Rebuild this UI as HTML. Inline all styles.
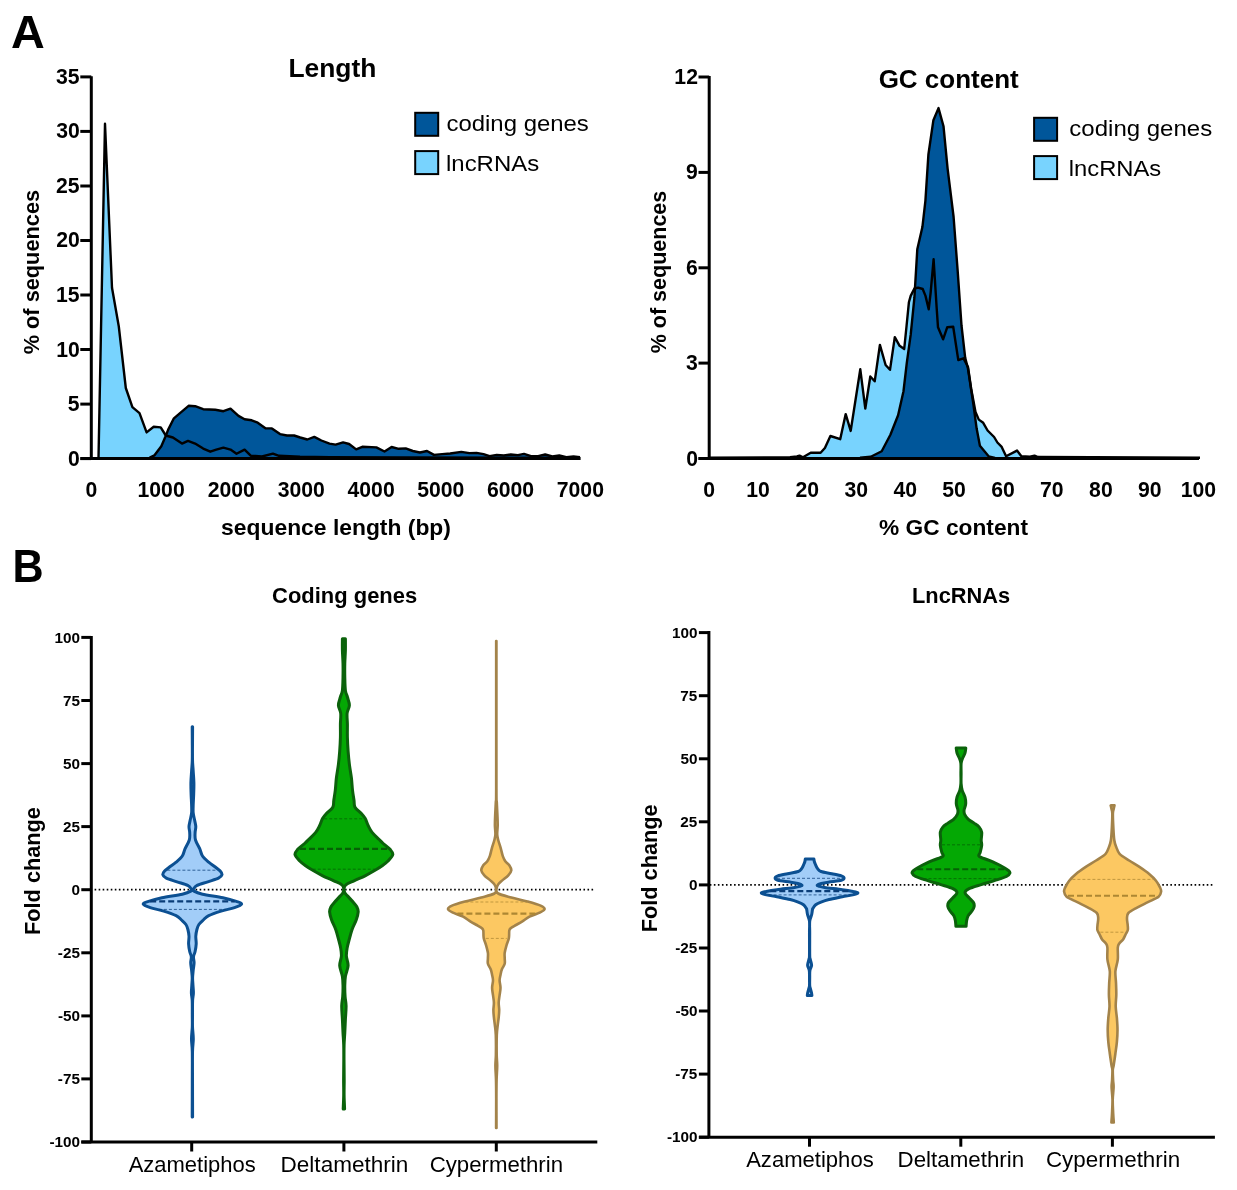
<!DOCTYPE html>
<html><head><meta charset="utf-8"><style>
html,body{margin:0;padding:0;background:#fff;}
svg{display:block;font-family:"Liberation Sans", sans-serif;font-kerning:none;filter:blur(0.35px);}
</style></head><body>
<svg width="1237" height="1190" viewBox="0 0 1237 1190">
<rect width="1237" height="1190" fill="#fff"/>
<polygon points="98.5,458.3 105.0,123.8 112.0,287.8 118.8,326.5 125.8,388.0 132.4,407.2 139.5,413.2 146.6,432.4 153.7,426.8 160.7,427.4 165.8,435.5 172.9,437.5 182.0,443.6 188.0,440.9 195.1,443.6 203.2,448.6 210.3,451.7 216.3,449.6 223.4,447.6 230.5,449.6 236.5,453.7 244.6,449.6 250.7,455.7 262.0,456.5 272.9,453.6 279.0,455.8 300.0,456.8 330.0,457.2 400.0,457.5 580.0,457.8" fill="#78d3fe"/>
<polygon points="149.6,457.5 154.5,455.3 161.3,446.2 165.5,436.5 168.2,429.6 173.9,418.3 180.0,413.2 188.6,405.8 195.1,406.2 203.2,409.2 215.3,409.8 223.4,411.2 230.5,408.6 238.5,415.9 244.6,419.3 251.7,420.3 257.7,422.7 265.8,428.4 271.9,428.4 280.0,434.1 287.0,435.5 294.1,435.5 300.2,437.5 307.3,439.5 314.3,436.9 321.4,440.5 329.5,443.6 335.6,444.6 343.1,442.4 349.1,444.0 356.2,449.4 362.3,446.8 376.4,447.4 384.5,451.5 391.6,447.0 398.7,448.8 405.7,448.4 412.8,451.0 419.9,452.5 427.0,451.0 434.0,454.9 442.1,454.1 450.2,453.5 461.3,451.9 469.4,453.1 476.5,452.9 483.5,454.1 489.6,456.1 496.7,454.9 503.8,455.5 510.8,454.5 517.9,455.1 524.0,453.9 531.0,456.1 538.1,456.1 545.2,454.5 552.3,456.5 559.3,455.5 566.4,457.1 573.5,456.5 580.0,457.1" fill="#00569a"/>
<polyline points="149.6,457.5 154.5,455.3 161.3,446.2 165.5,436.5 168.2,429.6 173.9,418.3 180.0,413.2 188.6,405.8 195.1,406.2 203.2,409.2 215.3,409.8 223.4,411.2 230.5,408.6 238.5,415.9 244.6,419.3 251.7,420.3 257.7,422.7 265.8,428.4 271.9,428.4 280.0,434.1 287.0,435.5 294.1,435.5 300.2,437.5 307.3,439.5 314.3,436.9 321.4,440.5 329.5,443.6 335.6,444.6 343.1,442.4 349.1,444.0 356.2,449.4 362.3,446.8 376.4,447.4 384.5,451.5 391.6,447.0 398.7,448.8 405.7,448.4 412.8,451.0 419.9,452.5 427.0,451.0 434.0,454.9 442.1,454.1 450.2,453.5 461.3,451.9 469.4,453.1 476.5,452.9 483.5,454.1 489.6,456.1 496.7,454.9 503.8,455.5 510.8,454.5 517.9,455.1 524.0,453.9 531.0,456.1 538.1,456.1 545.2,454.5 552.3,456.5 559.3,455.5 566.4,457.1 573.5,456.5 580.0,457.1" fill="none" stroke="#000" stroke-width="2.4" stroke-linejoin="round"/>
<polyline points="98.5,458.3 105.0,123.8 112.0,287.8 118.8,326.5 125.8,388.0 132.4,407.2 139.5,413.2 146.6,432.4 153.7,426.8 160.7,427.4 165.8,435.5 172.9,437.5 182.0,443.6 188.0,440.9 195.1,443.6 203.2,448.6 210.3,451.7 216.3,449.6 223.4,447.6 230.5,449.6 236.5,453.7 244.6,449.6 250.7,455.7 262.0,456.5 272.9,453.6 279.0,455.8 300.0,456.8 330.0,457.2 400.0,457.5 580.0,457.8" fill="none" stroke="#000" stroke-width="2.4" stroke-linejoin="round"/>
<path d="M91.3,76.2 V458.6 M80.5,458.6 H580.6" stroke="#000" stroke-width="3" fill="none"/>
<path d="M80.3,458.6 H91.3" stroke="#000" stroke-width="3"/>
<text x="67.98" y="465.60" font-size="21.2" font-weight="bold" textLength="11.79" lengthAdjust="spacingAndGlyphs">0</text>
<path d="M80.3,404.1 H91.3" stroke="#000" stroke-width="3"/>
<text x="67.70" y="411.07" font-size="21.2" font-weight="bold" textLength="11.79" lengthAdjust="spacingAndGlyphs">5</text>
<path d="M80.3,349.5 H91.3" stroke="#000" stroke-width="3"/>
<text x="56.19" y="356.54" font-size="21.2" font-weight="bold" textLength="23.58" lengthAdjust="spacingAndGlyphs">10</text>
<path d="M80.3,295.0 H91.3" stroke="#000" stroke-width="3"/>
<text x="55.91" y="302.01" font-size="21.2" font-weight="bold" textLength="23.58" lengthAdjust="spacingAndGlyphs">15</text>
<path d="M80.3,240.5 H91.3" stroke="#000" stroke-width="3"/>
<text x="56.19" y="247.49" font-size="21.2" font-weight="bold" textLength="23.58" lengthAdjust="spacingAndGlyphs">20</text>
<path d="M80.3,186.0 H91.3" stroke="#000" stroke-width="3"/>
<text x="55.91" y="192.96" font-size="21.2" font-weight="bold" textLength="23.58" lengthAdjust="spacingAndGlyphs">25</text>
<path d="M80.3,131.4 H91.3" stroke="#000" stroke-width="3"/>
<text x="56.19" y="138.43" font-size="21.2" font-weight="bold" textLength="23.58" lengthAdjust="spacingAndGlyphs">30</text>
<path d="M80.3,76.9 H91.3" stroke="#000" stroke-width="3"/>
<text x="55.91" y="83.90" font-size="21.2" font-weight="bold" textLength="23.58" lengthAdjust="spacingAndGlyphs">35</text>
<text x="85.62" y="496.60" font-size="21.2" font-weight="bold" textLength="11.79" lengthAdjust="spacingAndGlyphs">0</text>
<text x="137.53" y="496.60" font-size="21.2" font-weight="bold" textLength="47.16" lengthAdjust="spacingAndGlyphs">1000</text>
<text x="207.67" y="496.60" font-size="21.2" font-weight="bold" textLength="47.16" lengthAdjust="spacingAndGlyphs">2000</text>
<text x="277.63" y="496.60" font-size="21.2" font-weight="bold" textLength="47.16" lengthAdjust="spacingAndGlyphs">3000</text>
<text x="347.55" y="496.60" font-size="21.2" font-weight="bold" textLength="47.16" lengthAdjust="spacingAndGlyphs">4000</text>
<text x="417.23" y="496.60" font-size="21.2" font-weight="bold" textLength="47.16" lengthAdjust="spacingAndGlyphs">5000</text>
<text x="487.01" y="496.60" font-size="21.2" font-weight="bold" textLength="47.16" lengthAdjust="spacingAndGlyphs">6000</text>
<text x="556.78" y="496.60" font-size="21.2" font-weight="bold" textLength="47.16" lengthAdjust="spacingAndGlyphs">7000</text>
<text x="221.10" y="534.80" font-size="21.5" font-weight="bold" textLength="229.84" lengthAdjust="spacingAndGlyphs">sequence length (bp)</text>
<text x="288.43" y="76.70" font-size="26" font-weight="bold" textLength="88.00" lengthAdjust="spacingAndGlyphs">Length</text>
<text transform="translate(38.90,353.80) rotate(-90)" x="-0.54" y="0" font-size="21.5" font-weight="bold" textLength="164.43" lengthAdjust="spacingAndGlyphs">% of sequences</text>
<rect x="415.2" y="112.8" width="23" height="23" fill="#00569a" stroke="#000" stroke-width="2"/>
<rect x="415.2" y="151.1" width="23" height="23" fill="#78d3fe" stroke="#000" stroke-width="2"/>
<text x="446.48" y="131.20" font-size="22.7" font-weight="normal" textLength="142.38" lengthAdjust="spacingAndGlyphs">coding genes</text>
<text x="445.99" y="170.90" font-size="22.7" font-weight="normal" textLength="93.18" lengthAdjust="spacingAndGlyphs">lncRNAs</text>
<polygon points="709.2,457.8 790.0,457.3 797.0,456.5 799.5,455.6 803.0,457.3 810.7,452.8 820.6,452.8 824.9,448.0 830.4,436.0 840.2,439.2 845.7,414.1 850.7,430.9 860.3,369.3 865.3,408.6 870.3,376.5 874.7,381.3 879.9,344.9 885.6,365.0 890.0,369.8 894.8,337.2 899.6,345.8 904.2,349.0 906.6,325.5 908.9,302.3 910.7,295.9 914.4,288.5 918.1,287.6 922.7,289.0 925.5,295.9 928.7,309.3 930.6,293.1 933.6,259.3 936.6,307.0 938.0,327.3 943.1,339.3 947.2,327.3 953.2,326.8 958.3,360.1 963.4,358.3 968.0,367.0 971.2,389.0 975.5,411.9 978.8,419.6 983.2,422.8 987.6,430.5 994.1,437.0 997.4,442.5 1001.7,446.9 1006.1,456.3 1017.0,450.6 1021.4,456.3 1030.0,456.6 1034.5,455.6 1038.0,457.0 1200.0,457.8" fill="#78d3fe"/>
<polygon points="860.0,457.8 870.8,456.7 881.7,451.2 890.4,434.8 898.1,415.2 903.5,391.2 906.8,362.8 910.7,334.7 914.4,297.7 917.3,249.3 922.4,227.1 925.4,200.8 928.4,154.5 933.4,120.2 938.5,108.1 943.5,126.2 947.6,168.6 953.6,217.0 957.7,271.4 961.5,325.5 965.2,357.8 967.9,368.2 973.4,404.3 976.6,428.3 979.9,445.8 988.6,456.3 995.0,457.8" fill="#00569a"/>
<polyline points="860.0,457.8 870.8,456.7 881.7,451.2 890.4,434.8 898.1,415.2 903.5,391.2 906.8,362.8 910.7,334.7 914.4,297.7 917.3,249.3 922.4,227.1 925.4,200.8 928.4,154.5 933.4,120.2 938.5,108.1 943.5,126.2 947.6,168.6 953.6,217.0 957.7,271.4 961.5,325.5 965.2,357.8 967.9,368.2 973.4,404.3 976.6,428.3 979.9,445.8 988.6,456.3 995.0,457.8" fill="none" stroke="#000" stroke-width="2.4" stroke-linejoin="round"/>
<polyline points="709.2,457.8 790.0,457.3 797.0,456.5 799.5,455.6 803.0,457.3 810.7,452.8 820.6,452.8 824.9,448.0 830.4,436.0 840.2,439.2 845.7,414.1 850.7,430.9 860.3,369.3 865.3,408.6 870.3,376.5 874.7,381.3 879.9,344.9 885.6,365.0 890.0,369.8 894.8,337.2 899.6,345.8 904.2,349.0 906.6,325.5 908.9,302.3 910.7,295.9 914.4,288.5 918.1,287.6 922.7,289.0 925.5,295.9 928.7,309.3 930.6,293.1 933.6,259.3 936.6,307.0 938.0,327.3 943.1,339.3 947.2,327.3 953.2,326.8 958.3,360.1 963.4,358.3 968.0,367.0 971.2,389.0 975.5,411.9 978.8,419.6 983.2,422.8 987.6,430.5 994.1,437.0 997.4,442.5 1001.7,446.9 1006.1,456.3 1017.0,450.6 1021.4,456.3 1030.0,456.6 1034.5,455.6 1038.0,457.0 1200.0,457.8" fill="none" stroke="#000" stroke-width="2.4" stroke-linejoin="round"/>
<path d="M709.2,76 V458.5 M698.5,458.5 H1199" stroke="#000" stroke-width="3" fill="none"/>
<path d="M698.5,458.5 H709.2" stroke="#000" stroke-width="3"/>
<text x="686.18" y="465.50" font-size="21.2" font-weight="bold" textLength="11.79" lengthAdjust="spacingAndGlyphs">0</text>
<path d="M698.5,363.1 H709.2" stroke="#000" stroke-width="3"/>
<text x="686.08" y="370.12" font-size="21.2" font-weight="bold" textLength="11.79" lengthAdjust="spacingAndGlyphs">3</text>
<path d="M698.5,267.8 H709.2" stroke="#000" stroke-width="3"/>
<text x="686.08" y="274.75" font-size="21.2" font-weight="bold" textLength="11.79" lengthAdjust="spacingAndGlyphs">6</text>
<path d="M698.5,172.4 H709.2" stroke="#000" stroke-width="3"/>
<text x="686.10" y="179.38" font-size="21.2" font-weight="bold" textLength="11.79" lengthAdjust="spacingAndGlyphs">9</text>
<path d="M698.5,77.0 H709.2" stroke="#000" stroke-width="3"/>
<text x="674.37" y="84.00" font-size="21.2" font-weight="bold" textLength="23.58" lengthAdjust="spacingAndGlyphs">12</text>
<text x="703.32" y="496.60" font-size="21.2" font-weight="bold" textLength="11.79" lengthAdjust="spacingAndGlyphs">0</text>
<text x="746.13" y="496.60" font-size="21.2" font-weight="bold" textLength="23.58" lengthAdjust="spacingAndGlyphs">10</text>
<text x="795.38" y="496.60" font-size="21.2" font-weight="bold" textLength="23.58" lengthAdjust="spacingAndGlyphs">20</text>
<text x="844.45" y="496.60" font-size="21.2" font-weight="bold" textLength="23.58" lengthAdjust="spacingAndGlyphs">30</text>
<text x="893.48" y="496.60" font-size="21.2" font-weight="bold" textLength="23.58" lengthAdjust="spacingAndGlyphs">40</text>
<text x="942.27" y="496.60" font-size="21.2" font-weight="bold" textLength="23.58" lengthAdjust="spacingAndGlyphs">50</text>
<text x="991.16" y="496.60" font-size="21.2" font-weight="bold" textLength="23.58" lengthAdjust="spacingAndGlyphs">60</text>
<text x="1040.04" y="496.60" font-size="21.2" font-weight="bold" textLength="23.58" lengthAdjust="spacingAndGlyphs">70</text>
<text x="1089.11" y="496.60" font-size="21.2" font-weight="bold" textLength="23.58" lengthAdjust="spacingAndGlyphs">80</text>
<text x="1138.03" y="496.60" font-size="21.2" font-weight="bold" textLength="23.58" lengthAdjust="spacingAndGlyphs">90</text>
<text x="1180.78" y="496.60" font-size="21.2" font-weight="bold" textLength="35.37" lengthAdjust="spacingAndGlyphs">100</text>
<text x="879.13" y="534.50" font-size="22" font-weight="bold" textLength="148.84" lengthAdjust="spacingAndGlyphs">% GC content</text>
<text x="878.63" y="88.20" font-size="26" font-weight="bold" textLength="140.08" lengthAdjust="spacingAndGlyphs">GC content</text>
<text transform="translate(666.20,352.80) rotate(-90)" x="-0.54" y="0" font-size="21.5" font-weight="bold" textLength="162.62" lengthAdjust="spacingAndGlyphs">% of sequences</text>
<rect x="1034.1" y="117.8" width="23" height="23" fill="#00569a" stroke="#000" stroke-width="2"/>
<rect x="1034.1" y="156.1" width="23" height="23" fill="#78d3fe" stroke="#000" stroke-width="2"/>
<text x="1069.38" y="135.70" font-size="22.7" font-weight="normal" textLength="142.79" lengthAdjust="spacingAndGlyphs">coding genes</text>
<text x="1068.80" y="175.70" font-size="22.7" font-weight="normal" textLength="92.46" lengthAdjust="spacingAndGlyphs">lncRNAs</text>
<text x="10.93" y="48.20" font-size="46" font-weight="bold" textLength="33.80" lengthAdjust="spacingAndGlyphs">A</text>
<text x="12.42" y="581.80" font-size="46" font-weight="bold" textLength="31.14" lengthAdjust="spacingAndGlyphs">B</text>
<path d="M91.3,635.9 V1142.0 M81.3,1142.0 H597.3" stroke="#000" stroke-width="3" fill="none"/>
<path d="M81.3,637.4 H91.3" stroke="#000" stroke-width="3"/>
<text x="54.60" y="642.60" font-size="15" font-weight="bold" textLength="25.53" lengthAdjust="spacingAndGlyphs">100</text>
<path d="M81.3,700.5 H91.3" stroke="#000" stroke-width="3"/>
<text x="62.91" y="705.68" font-size="15" font-weight="bold" textLength="17.02" lengthAdjust="spacingAndGlyphs">75</text>
<path d="M81.3,763.6 H91.3" stroke="#000" stroke-width="3"/>
<text x="63.11" y="768.75" font-size="15" font-weight="bold" textLength="17.02" lengthAdjust="spacingAndGlyphs">50</text>
<path d="M81.3,826.6 H91.3" stroke="#000" stroke-width="3"/>
<text x="62.91" y="831.83" font-size="15" font-weight="bold" textLength="17.02" lengthAdjust="spacingAndGlyphs">25</text>
<path d="M81.3,889.7 H91.3" stroke="#000" stroke-width="3"/>
<text x="71.62" y="894.90" font-size="15" font-weight="bold" textLength="8.51" lengthAdjust="spacingAndGlyphs">0</text>
<path d="M81.3,952.8 H91.3" stroke="#000" stroke-width="3"/>
<text x="57.81" y="957.98" font-size="15" font-weight="bold" textLength="22.11" lengthAdjust="spacingAndGlyphs">-25</text>
<path d="M81.3,1015.9 H91.3" stroke="#000" stroke-width="3"/>
<text x="58.01" y="1021.05" font-size="15" font-weight="bold" textLength="22.11" lengthAdjust="spacingAndGlyphs">-50</text>
<path d="M81.3,1078.9 H91.3" stroke="#000" stroke-width="3"/>
<text x="57.81" y="1084.13" font-size="15" font-weight="bold" textLength="22.11" lengthAdjust="spacingAndGlyphs">-75</text>
<path d="M81.3,1142.0 H91.3" stroke="#000" stroke-width="3"/>
<text x="49.51" y="1147.20" font-size="15" font-weight="bold" textLength="30.62" lengthAdjust="spacingAndGlyphs">-100</text>
<path d="M94.60,889.7 H595.3" stroke="#000" stroke-width="1.7" stroke-dasharray="1.6 2.44"/>
<path d="M191.7,1142.0 V1151.5" stroke="#000" stroke-width="3"/>
<text x="128.66" y="1171.60" font-size="22.5" font-weight="normal" textLength="127.14" lengthAdjust="spacingAndGlyphs">Azametiphos</text>
<path d="M343.9,1142.0 V1151.5" stroke="#000" stroke-width="3"/>
<text x="280.55" y="1171.80" font-size="22.5" font-weight="normal" textLength="127.81" lengthAdjust="spacingAndGlyphs">Deltamethrin</text>
<path d="M496.3,1142.0 V1151.5" stroke="#000" stroke-width="3"/>
<text x="429.67" y="1171.80" font-size="22.5" font-weight="normal" textLength="133.37" lengthAdjust="spacingAndGlyphs">Cypermethrin</text>
<text x="272.10" y="603.20" font-size="21.5" font-weight="bold" textLength="145.10" lengthAdjust="spacingAndGlyphs">Coding genes</text>
<text transform="translate(39.50,933.50) rotate(-90)" x="-1.45" y="0" font-size="22" font-weight="bold" textLength="127.79" lengthAdjust="spacingAndGlyphs">Fold change</text>
<path d="M192.60,726.70 C192.59,728.92 192.53,734.45 192.52,740.00 C192.51,745.55 192.41,754.83 192.52,760.00 C192.63,765.17 192.97,767.17 193.20,771.00 C193.43,774.83 193.82,779.17 193.90,783.00 C193.98,786.83 193.82,790.33 193.70,794.00 C193.58,797.67 193.28,801.83 193.20,805.00 C193.12,808.17 192.95,810.42 193.20,813.00 C193.45,815.58 194.27,818.23 194.70,820.50 C195.13,822.77 195.73,824.58 195.80,826.60 C195.87,828.62 195.15,830.37 195.10,832.60 C195.05,834.83 194.72,837.28 195.50,840.00 C196.28,842.72 198.63,846.23 199.80,848.90 C200.97,851.57 201.02,853.78 202.50,856.00 C203.98,858.22 206.63,860.42 208.70,862.20 C210.77,863.98 212.98,865.22 214.90,866.70 C216.82,868.18 219.02,869.77 220.20,871.10 C221.38,872.43 222.28,873.52 222.00,874.70 C221.72,875.88 220.87,877.02 218.50,878.20 C216.13,879.38 211.37,880.60 207.80,881.80 C204.23,883.00 199.47,884.22 197.10,885.40 C194.73,886.58 194.12,887.95 193.60,888.90 C193.08,889.85 192.52,890.22 194.00,891.10 C195.48,891.98 197.68,893.08 202.50,894.20 C207.32,895.32 217.27,896.60 222.90,897.80 C228.53,899.00 233.18,900.37 236.30,901.40 C239.42,902.43 241.90,902.97 241.60,904.00 C241.30,905.03 237.92,906.42 234.50,907.60 C231.08,908.78 225.40,909.77 221.10,911.10 C216.80,912.43 211.67,914.12 208.70,915.60 C205.73,917.08 204.93,918.52 203.30,920.00 C201.67,921.48 199.97,922.92 198.90,924.50 C197.83,926.08 197.42,927.53 196.90,929.50 C196.38,931.47 195.92,933.90 195.80,936.30 C195.68,938.70 196.32,941.37 196.20,943.90 C196.08,946.43 195.55,949.35 195.10,951.50 C194.65,953.65 193.67,954.92 193.50,956.80 C193.33,958.68 194.15,960.53 194.10,962.80 C194.05,965.07 193.45,967.87 193.20,970.40 C192.95,972.93 192.63,975.48 192.60,978.00 C192.57,980.52 192.87,982.98 193.00,985.50 C193.13,988.02 193.47,990.58 193.40,993.10 C193.33,995.62 192.75,996.95 192.60,1000.60 C192.45,1004.25 192.53,1010.60 192.52,1015.00 C192.51,1019.40 192.39,1023.00 192.52,1027.00 C192.65,1031.00 193.30,1034.83 193.30,1039.00 C193.30,1043.17 192.65,1044.50 192.52,1052.00 C192.39,1059.50 192.51,1073.17 192.52,1084.00 C192.53,1094.83 192.59,1111.50 192.60,1117.00 L192.20,1117.00 C192.21,1111.50 192.27,1094.83 192.28,1084.00 C192.29,1073.17 192.41,1059.50 192.28,1052.00 C192.15,1044.50 191.50,1043.17 191.50,1039.00 C191.50,1034.83 192.15,1031.00 192.28,1027.00 C192.41,1023.00 192.29,1019.40 192.28,1015.00 C192.27,1010.60 192.35,1004.25 192.20,1000.60 C192.05,996.95 191.47,995.62 191.40,993.10 C191.33,990.58 191.67,988.02 191.80,985.50 C191.93,982.98 192.23,980.52 192.20,978.00 C192.17,975.48 191.85,972.93 191.60,970.40 C191.35,967.87 190.75,965.07 190.70,962.80 C190.65,960.53 191.47,958.68 191.30,956.80 C191.13,954.92 190.15,953.65 189.70,951.50 C189.25,949.35 188.72,946.43 188.60,943.90 C188.48,941.37 189.12,938.70 189.00,936.30 C188.88,933.90 188.42,931.47 187.90,929.50 C187.38,927.53 186.97,926.08 185.90,924.50 C184.83,922.92 183.13,921.48 181.50,920.00 C179.87,918.52 179.07,917.08 176.10,915.60 C173.13,914.12 168.00,912.43 163.70,911.10 C159.40,909.77 153.72,908.78 150.30,907.60 C146.88,906.42 143.50,905.03 143.20,904.00 C142.90,902.97 145.38,902.43 148.50,901.40 C151.62,900.37 156.27,899.00 161.90,897.80 C167.53,896.60 177.48,895.32 182.30,894.20 C187.12,893.08 189.32,891.98 190.80,891.10 C192.28,890.22 191.72,889.85 191.20,888.90 C190.68,887.95 190.07,886.58 187.70,885.40 C185.33,884.22 180.57,883.00 177.00,881.80 C173.43,880.60 168.67,879.38 166.30,878.20 C163.93,877.02 163.08,875.88 162.80,874.70 C162.52,873.52 163.42,872.43 164.60,871.10 C165.78,869.77 167.98,868.18 169.90,866.70 C171.82,865.22 174.03,863.98 176.10,862.20 C178.17,860.42 180.82,858.22 182.30,856.00 C183.78,853.78 183.83,851.57 185.00,848.90 C186.17,846.23 188.52,842.72 189.30,840.00 C190.08,837.28 189.75,834.83 189.70,832.60 C189.65,830.37 188.93,828.62 189.00,826.60 C189.07,824.58 189.67,822.77 190.10,820.50 C190.53,818.23 191.35,815.58 191.60,813.00 C191.85,810.42 191.68,808.17 191.60,805.00 C191.52,801.83 191.22,797.67 191.10,794.00 C190.98,790.33 190.82,786.83 190.90,783.00 C190.98,779.17 191.37,774.83 191.60,771.00 C191.83,767.17 192.17,765.17 192.28,760.00 C192.39,754.83 192.29,745.55 192.28,740.00 C192.27,734.45 192.21,728.92 192.20,726.70 Z" fill="#a2cdf8" stroke="#0c5092" stroke-width="3.0" stroke-linejoin="round"/>
<path d="M167.4,870.2 H217.4" stroke="#0a3d78" stroke-width="1" stroke-dasharray="3 2" opacity="0.75"/>
<path d="M150.2,901.4 H234.6" stroke="#0a3d78" stroke-width="2.1" stroke-dasharray="6 3"/>
<path d="M158.9,909.4 H225.9" stroke="#0a3d78" stroke-width="1" stroke-dasharray="3 2" opacity="0.75"/>
<path d="M345.40,638.70 C345.40,640.62 345.50,646.05 345.40,650.20 C345.30,654.35 344.90,659.13 344.80,663.60 C344.70,668.07 344.70,672.52 344.80,677.00 C344.90,681.48 344.97,687.17 345.40,690.50 C345.83,693.83 346.73,694.53 347.40,697.00 C348.07,699.47 349.45,702.58 349.40,705.30 C349.35,708.02 347.43,710.17 347.10,713.30 C346.77,716.43 347.35,720.07 347.40,724.10 C347.45,728.13 347.28,733.02 347.40,737.50 C347.52,741.98 347.77,746.52 348.10,751.00 C348.43,755.48 348.85,759.93 349.40,764.40 C349.95,768.87 350.88,773.52 351.40,777.80 C351.92,782.08 352.07,786.37 352.50,790.10 C352.93,793.83 353.58,797.35 354.00,800.20 C354.42,803.05 353.82,805.02 355.00,807.20 C356.18,809.38 359.42,811.45 361.10,813.30 C362.78,815.15 363.93,816.28 365.10,818.30 C366.27,820.32 366.93,823.05 368.10,825.40 C369.27,827.75 370.25,830.05 372.10,832.40 C373.95,834.75 377.35,837.65 379.20,839.50 C381.05,841.35 381.35,841.82 383.20,843.50 C385.05,845.18 388.70,847.75 390.30,849.60 C391.90,851.45 393.13,852.75 392.80,854.60 C392.47,856.45 390.07,858.85 388.30,860.70 C386.53,862.55 384.55,864.02 382.20,865.70 C379.85,867.38 377.05,869.12 374.20,870.80 C371.35,872.48 368.47,874.13 365.10,875.80 C361.73,877.47 357.20,879.28 354.00,880.80 C350.80,882.32 347.56,883.55 345.90,884.90 C344.24,886.25 344.19,887.57 344.02,888.90 C343.85,890.23 344.34,891.75 344.90,892.90 C345.46,894.05 345.97,894.20 347.40,895.80 C348.83,897.40 351.92,900.63 353.50,902.50 C355.08,904.37 356.12,905.43 356.90,907.00 C357.68,908.57 358.32,909.73 358.20,911.90 C358.08,914.07 357.22,917.08 356.20,920.00 C355.18,922.92 353.23,926.27 352.10,929.40 C350.97,932.53 350.23,935.67 349.40,938.80 C348.57,941.93 347.60,945.30 347.10,948.20 C346.60,951.10 346.23,953.30 346.40,956.20 C346.57,959.10 348.27,962.23 348.10,965.60 C347.93,968.97 345.95,973.03 345.40,976.40 C344.85,979.77 344.85,982.43 344.80,985.80 C344.75,989.17 344.88,993.23 345.10,996.60 C345.32,999.97 346.05,1002.20 346.10,1006.00 C346.15,1009.80 345.62,1014.93 345.40,1019.40 C345.18,1023.87 345.02,1028.53 344.80,1032.80 C344.58,1037.07 344.23,1040.47 344.10,1045.00 C343.97,1049.53 344.00,1054.17 344.02,1060.00 C344.04,1065.83 344.19,1074.17 344.20,1080.00 C344.21,1085.83 344.03,1090.17 344.10,1095.00 C344.17,1099.83 344.52,1106.67 344.60,1109.00 L343.20,1109.00 C343.28,1106.67 343.63,1099.83 343.70,1095.00 C343.77,1090.17 343.59,1085.83 343.60,1080.00 C343.61,1074.17 343.76,1065.83 343.78,1060.00 C343.80,1054.17 343.83,1049.53 343.70,1045.00 C343.57,1040.47 343.22,1037.07 343.00,1032.80 C342.78,1028.53 342.62,1023.87 342.40,1019.40 C342.18,1014.93 341.65,1009.80 341.70,1006.00 C341.75,1002.20 342.48,999.97 342.70,996.60 C342.92,993.23 343.05,989.17 343.00,985.80 C342.95,982.43 342.95,979.77 342.40,976.40 C341.85,973.03 339.87,968.97 339.70,965.60 C339.53,962.23 341.23,959.10 341.40,956.20 C341.57,953.30 341.20,951.10 340.70,948.20 C340.20,945.30 339.23,941.93 338.40,938.80 C337.57,935.67 336.83,932.53 335.70,929.40 C334.57,926.27 332.62,922.92 331.60,920.00 C330.58,917.08 329.72,914.07 329.60,911.90 C329.48,909.73 330.12,908.57 330.90,907.00 C331.68,905.43 332.72,904.37 334.30,902.50 C335.88,900.63 338.97,897.40 340.40,895.80 C341.83,894.20 342.34,894.05 342.90,892.90 C343.46,891.75 343.95,890.23 343.78,888.90 C343.61,887.57 343.56,886.25 341.90,884.90 C340.24,883.55 337.00,882.32 333.80,880.80 C330.60,879.28 326.07,877.47 322.70,875.80 C319.33,874.13 316.45,872.48 313.60,870.80 C310.75,869.12 307.95,867.38 305.60,865.70 C303.25,864.02 301.27,862.55 299.50,860.70 C297.73,858.85 295.33,856.45 295.00,854.60 C294.67,852.75 295.90,851.45 297.50,849.60 C299.10,847.75 302.75,845.18 304.60,843.50 C306.45,841.82 306.75,841.35 308.60,839.50 C310.45,837.65 313.85,834.75 315.70,832.40 C317.55,830.05 318.53,827.75 319.70,825.40 C320.87,823.05 321.53,820.32 322.70,818.30 C323.87,816.28 325.02,815.15 326.70,813.30 C328.38,811.45 331.62,809.38 332.80,807.20 C333.98,805.02 333.38,803.05 333.80,800.20 C334.22,797.35 334.87,793.83 335.30,790.10 C335.73,786.37 335.88,782.08 336.40,777.80 C336.92,773.52 337.85,768.87 338.40,764.40 C338.95,759.93 339.37,755.48 339.70,751.00 C340.03,746.52 340.28,741.98 340.40,737.50 C340.52,733.02 340.35,728.13 340.40,724.10 C340.45,720.07 341.03,716.43 340.70,713.30 C340.37,710.17 338.45,708.02 338.40,705.30 C338.35,702.58 339.73,699.47 340.40,697.00 C341.07,694.53 341.97,693.83 342.40,690.50 C342.83,687.17 342.90,681.48 343.00,677.00 C343.10,672.52 343.10,668.07 343.00,663.60 C342.90,659.13 342.50,654.35 342.40,650.20 C342.30,646.05 342.40,640.62 342.40,638.70 Z" fill="#04a804" stroke="#0b620b" stroke-width="3.0" stroke-linejoin="round"/>
<path d="M324.2,818.8 H363.6" stroke="#066006" stroke-width="1" stroke-dasharray="3 2" opacity="0.75"/>
<path d="M300.0,848.9 H387.8" stroke="#066006" stroke-width="2.1" stroke-dasharray="6 3"/>
<path d="M312.8,869.2 H375.0" stroke="#066006" stroke-width="1" stroke-dasharray="3 2" opacity="0.75"/>
<path d="M496.42,641.00 C496.42,650.83 496.42,675.33 496.42,700.00 C496.42,724.67 496.36,771.92 496.42,789.00 C496.48,806.08 496.64,798.17 496.80,802.50 C496.96,806.83 497.25,811.25 497.40,815.00 C497.55,818.75 497.73,821.80 497.70,825.00 C497.67,828.20 497.12,831.70 497.20,834.20 C497.28,836.70 497.62,837.68 498.20,840.00 C498.78,842.32 499.93,845.42 500.70,848.10 C501.47,850.78 502.03,853.92 502.80,856.10 C503.57,858.28 504.22,859.68 505.30,861.20 C506.38,862.72 508.30,863.68 509.30,865.20 C510.30,866.72 511.47,868.62 511.30,870.30 C511.13,871.98 509.80,873.62 508.30,875.30 C506.80,876.98 503.98,878.88 502.30,880.40 C500.62,881.92 499.18,882.90 498.20,884.40 C497.22,885.90 496.42,887.88 496.42,889.40 C496.42,890.92 495.72,892.15 498.20,893.50 C500.68,894.85 506.42,896.17 511.30,897.50 C516.18,898.83 522.62,900.15 527.50,901.50 C532.38,902.85 537.75,904.33 540.60,905.60 C543.45,906.87 544.77,907.93 544.60,909.10 C544.43,910.27 542.12,911.33 539.60,912.60 C537.08,913.87 532.43,915.18 529.50,916.70 C526.57,918.22 524.25,920.32 522.00,921.70 C519.75,923.08 517.83,923.95 516.00,925.00 C514.17,926.05 512.12,927.08 511.00,928.00 C509.88,928.92 509.65,928.85 509.30,930.50 C508.95,932.15 509.37,935.43 508.90,937.90 C508.43,940.37 507.20,942.83 506.50,945.30 C505.80,947.77 505.00,950.55 504.70,952.70 C504.40,954.85 504.70,956.35 504.70,958.20 C504.70,960.05 505.17,961.95 504.70,963.80 C504.23,965.65 502.60,967.45 501.90,969.30 C501.20,971.15 500.88,973.05 500.50,974.90 C500.12,976.75 499.60,978.25 499.60,980.40 C499.60,982.55 500.50,985.33 500.50,987.80 C500.50,990.27 499.90,992.73 499.60,995.20 C499.30,997.67 498.77,1000.13 498.70,1002.60 C498.63,1005.07 499.20,1007.55 499.20,1010.00 C499.20,1012.45 498.93,1014.85 498.70,1017.30 C498.47,1019.75 498.12,1021.77 497.80,1024.70 C497.48,1027.63 496.98,1029.88 496.80,1034.90 C496.62,1039.92 496.63,1049.67 496.70,1054.80 C496.77,1059.93 497.22,1061.50 497.20,1065.70 C497.18,1069.90 496.73,1074.53 496.60,1080.00 C496.47,1085.47 496.44,1090.50 496.42,1098.50 C496.40,1106.50 496.49,1123.08 496.50,1128.00 L496.10,1128.00 C496.11,1123.08 496.20,1106.50 496.18,1098.50 C496.16,1090.50 496.13,1085.47 496.00,1080.00 C495.87,1074.53 495.42,1069.90 495.40,1065.70 C495.38,1061.50 495.83,1059.93 495.90,1054.80 C495.97,1049.67 495.98,1039.92 495.80,1034.90 C495.62,1029.88 495.12,1027.63 494.80,1024.70 C494.48,1021.77 494.13,1019.75 493.90,1017.30 C493.67,1014.85 493.40,1012.45 493.40,1010.00 C493.40,1007.55 493.97,1005.07 493.90,1002.60 C493.83,1000.13 493.30,997.67 493.00,995.20 C492.70,992.73 492.10,990.27 492.10,987.80 C492.10,985.33 493.00,982.55 493.00,980.40 C493.00,978.25 492.48,976.75 492.10,974.90 C491.72,973.05 491.40,971.15 490.70,969.30 C490.00,967.45 488.37,965.65 487.90,963.80 C487.43,961.95 487.90,960.05 487.90,958.20 C487.90,956.35 488.20,954.85 487.90,952.70 C487.60,950.55 486.80,947.77 486.10,945.30 C485.40,942.83 484.17,940.37 483.70,937.90 C483.23,935.43 483.65,932.15 483.30,930.50 C482.95,928.85 482.72,928.92 481.60,928.00 C480.48,927.08 478.43,926.05 476.60,925.00 C474.77,923.95 472.85,923.08 470.60,921.70 C468.35,920.32 466.03,918.22 463.10,916.70 C460.17,915.18 455.52,913.87 453.00,912.60 C450.48,911.33 448.17,910.27 448.00,909.10 C447.83,907.93 449.15,906.87 452.00,905.60 C454.85,904.33 460.22,902.85 465.10,901.50 C469.98,900.15 476.42,898.83 481.30,897.50 C486.18,896.17 491.92,894.85 494.40,893.50 C496.88,892.15 496.18,890.92 496.18,889.40 C496.18,887.88 495.38,885.90 494.40,884.40 C493.42,882.90 491.98,881.92 490.30,880.40 C488.62,878.88 485.80,876.98 484.30,875.30 C482.80,873.62 481.47,871.98 481.30,870.30 C481.13,868.62 482.30,866.72 483.30,865.20 C484.30,863.68 486.22,862.72 487.30,861.20 C488.38,859.68 489.03,858.28 489.80,856.10 C490.57,853.92 491.13,850.78 491.90,848.10 C492.67,845.42 493.82,842.32 494.40,840.00 C494.98,837.68 495.32,836.70 495.40,834.20 C495.48,831.70 494.93,828.20 494.90,825.00 C494.87,821.80 495.05,818.75 495.20,815.00 C495.35,811.25 495.64,806.83 495.80,802.50 C495.96,798.17 496.12,806.08 496.18,789.00 C496.24,771.92 496.18,724.67 496.18,700.00 C496.18,675.33 496.18,650.83 496.18,641.00 Z" fill="#fcc862" stroke="#a3834a" stroke-width="2.6" stroke-linejoin="round"/>
<path d="M465.4,902.0 H527.2" stroke="#ad8733" stroke-width="1" stroke-dasharray="3 2" opacity="0.75"/>
<path d="M457.4,913.6 H535.2" stroke="#ad8733" stroke-width="2.1" stroke-dasharray="6 3"/>
<path d="M485.8,938.4 H506.8" stroke="#ad8733" stroke-width="1" stroke-dasharray="3 2" opacity="0.75"/>
<path d="M708.9,631.1 V1137.2 M698.9,1137.2 H1214.9" stroke="#000" stroke-width="3" fill="none"/>
<path d="M698.9,632.6 H708.9" stroke="#000" stroke-width="3"/>
<text x="672.00" y="637.80" font-size="15" font-weight="bold" textLength="25.53" lengthAdjust="spacingAndGlyphs">100</text>
<path d="M698.9,695.7 H708.9" stroke="#000" stroke-width="3"/>
<text x="680.31" y="700.88" font-size="15" font-weight="bold" textLength="17.02" lengthAdjust="spacingAndGlyphs">75</text>
<path d="M698.9,758.8 H708.9" stroke="#000" stroke-width="3"/>
<text x="680.51" y="763.95" font-size="15" font-weight="bold" textLength="17.02" lengthAdjust="spacingAndGlyphs">50</text>
<path d="M698.9,821.8 H708.9" stroke="#000" stroke-width="3"/>
<text x="680.31" y="827.02" font-size="15" font-weight="bold" textLength="17.02" lengthAdjust="spacingAndGlyphs">25</text>
<path d="M698.9,884.9 H708.9" stroke="#000" stroke-width="3"/>
<text x="689.02" y="890.10" font-size="15" font-weight="bold" textLength="8.51" lengthAdjust="spacingAndGlyphs">0</text>
<path d="M698.9,948.0 H708.9" stroke="#000" stroke-width="3"/>
<text x="675.21" y="953.18" font-size="15" font-weight="bold" textLength="22.11" lengthAdjust="spacingAndGlyphs">-25</text>
<path d="M698.9,1011.0 H708.9" stroke="#000" stroke-width="3"/>
<text x="675.41" y="1016.25" font-size="15" font-weight="bold" textLength="22.11" lengthAdjust="spacingAndGlyphs">-50</text>
<path d="M698.9,1074.1 H708.9" stroke="#000" stroke-width="3"/>
<text x="675.21" y="1079.33" font-size="15" font-weight="bold" textLength="22.11" lengthAdjust="spacingAndGlyphs">-75</text>
<path d="M698.9,1137.2 H708.9" stroke="#000" stroke-width="3"/>
<text x="666.91" y="1142.40" font-size="15" font-weight="bold" textLength="30.62" lengthAdjust="spacingAndGlyphs">-100</text>
<path d="M709.80,884.9 H1212.9" stroke="#000" stroke-width="1.7" stroke-dasharray="1.6 2.44"/>
<path d="M809.5,1137.2 V1146.7" stroke="#000" stroke-width="3"/>
<text x="746.16" y="1167.30" font-size="22.5" font-weight="normal" textLength="127.54" lengthAdjust="spacingAndGlyphs">Azametiphos</text>
<path d="M960.8,1137.2 V1146.7" stroke="#000" stroke-width="3"/>
<text x="897.57" y="1167.30" font-size="22.5" font-weight="normal" textLength="126.58" lengthAdjust="spacingAndGlyphs">Deltamethrin</text>
<path d="M1112.4,1137.2 V1146.7" stroke="#000" stroke-width="3"/>
<text x="1045.96" y="1167.30" font-size="22.5" font-weight="normal" textLength="134.19" lengthAdjust="spacingAndGlyphs">Cypermethrin</text>
<text x="912.04" y="603.10" font-size="21.5" font-weight="bold" textLength="98.05" lengthAdjust="spacingAndGlyphs">LncRNAs</text>
<text transform="translate(657.30,930.80) rotate(-90)" x="-1.45" y="0" font-size="22" font-weight="bold" textLength="127.79" lengthAdjust="spacingAndGlyphs">Fold change</text>
<path d="M813.90,859.00 C813.97,859.42 814.08,860.68 814.30,861.50 C814.52,862.32 814.68,862.77 815.20,863.90 C815.72,865.03 816.43,867.03 817.40,868.30 C818.37,869.57 818.62,870.60 821.00,871.50 C823.38,872.40 828.30,872.97 831.70,873.70 C835.10,874.43 839.33,875.17 841.40,875.90 C843.47,876.63 844.10,877.37 844.10,878.10 C844.10,878.83 843.92,879.63 841.40,880.30 C838.88,880.97 832.35,881.57 829.00,882.10 C825.65,882.63 823.25,883.00 821.30,883.50 C819.35,884.00 817.67,884.63 817.30,885.10 C816.93,885.57 817.88,885.90 819.10,886.30 C820.32,886.70 820.73,886.93 824.60,887.50 C828.47,888.07 837.57,889.03 842.30,889.70 C847.03,890.37 850.40,890.98 853.00,891.50 C855.60,892.02 857.75,892.28 857.90,892.80 C858.05,893.32 856.50,893.93 853.90,894.60 C851.30,895.27 846.45,895.98 842.30,896.80 C838.15,897.62 832.55,898.62 829.00,899.50 C825.45,900.38 823.22,901.22 821.00,902.10 C818.78,902.98 817.05,903.75 815.70,904.80 C814.35,905.85 813.45,907.53 812.90,908.40 C812.35,909.27 812.60,908.98 812.40,910.00 C812.20,911.02 812.15,912.62 811.70,914.50 C811.25,916.38 810.05,918.27 809.72,921.30 C809.39,924.33 809.72,927.02 809.72,932.70 C809.72,938.38 809.64,951.00 809.72,955.40 C809.80,959.80 809.89,957.47 810.20,959.10 C810.51,960.73 811.65,963.30 811.60,965.20 C811.55,967.10 810.21,968.37 809.90,970.50 C809.59,972.63 809.75,975.48 809.72,978.00 C809.69,980.52 809.57,983.70 809.72,985.60 C809.87,987.50 810.29,988.13 810.60,989.40 C810.91,990.67 811.38,992.20 811.60,993.20 C811.82,994.20 811.85,995.03 811.90,995.40 L807.30,995.40 C807.35,995.03 807.38,994.20 807.60,993.20 C807.82,992.20 808.29,990.67 808.60,989.40 C808.91,988.13 809.33,987.50 809.48,985.60 C809.63,983.70 809.51,980.52 809.48,978.00 C809.45,975.48 809.61,972.63 809.30,970.50 C808.99,968.37 807.65,967.10 807.60,965.20 C807.55,963.30 808.69,960.73 809.00,959.10 C809.31,957.47 809.40,959.80 809.48,955.40 C809.56,951.00 809.48,938.38 809.48,932.70 C809.48,927.02 809.81,924.33 809.48,921.30 C809.15,918.27 807.95,916.38 807.50,914.50 C807.05,912.62 807.00,911.02 806.80,910.00 C806.60,908.98 806.85,909.27 806.30,908.40 C805.75,907.53 804.85,905.85 803.50,904.80 C802.15,903.75 800.42,902.98 798.20,902.10 C795.98,901.22 793.75,900.38 790.20,899.50 C786.65,898.62 781.05,897.62 776.90,896.80 C772.75,895.98 767.90,895.27 765.30,894.60 C762.70,893.93 761.15,893.32 761.30,892.80 C761.45,892.28 763.60,892.02 766.20,891.50 C768.80,890.98 772.17,890.37 776.90,889.70 C781.63,889.03 790.73,888.07 794.60,887.50 C798.47,886.93 798.88,886.70 800.10,886.30 C801.32,885.90 802.27,885.57 801.90,885.10 C801.53,884.63 799.85,884.00 797.90,883.50 C795.95,883.00 793.55,882.63 790.20,882.10 C786.85,881.57 780.32,880.97 777.80,880.30 C775.28,879.63 775.10,878.83 775.10,878.10 C775.10,877.37 775.73,876.63 777.80,875.90 C779.87,875.17 784.10,874.43 787.50,873.70 C790.90,872.97 795.82,872.40 798.20,871.50 C800.58,870.60 800.83,869.57 801.80,868.30 C802.77,867.03 803.48,865.03 804.00,863.90 C804.52,862.77 804.68,862.32 804.90,861.50 C805.12,860.68 805.23,859.42 805.30,859.00 Z" fill="#a2cdf8" stroke="#0c5092" stroke-width="3.0" stroke-linejoin="round"/>
<path d="M777.0,878.3 H842.2" stroke="#0a3d78" stroke-width="1" stroke-dasharray="3 2" opacity="0.75"/>
<path d="M770.3,891.1 H848.9" stroke="#0a3d78" stroke-width="2.1" stroke-dasharray="6 3"/>
<path d="M768.6,894.9 H850.6" stroke="#0a3d78" stroke-width="1" stroke-dasharray="3 2" opacity="0.75"/>
<path d="M965.80,748.10 C965.65,748.98 965.47,751.62 964.90,753.40 C964.33,755.18 963.03,757.12 962.40,758.80 C961.77,760.48 961.33,761.03 961.12,763.50 C960.91,765.97 961.12,770.23 961.12,773.60 C961.12,776.97 960.94,780.90 961.12,783.70 C961.30,786.50 961.55,788.17 962.20,790.40 C962.85,792.63 964.42,794.85 965.00,797.10 C965.58,799.35 965.85,801.75 965.70,803.90 C965.55,806.05 964.30,808.32 964.10,810.00 C963.90,811.68 963.83,812.48 964.50,814.00 C965.17,815.52 966.50,817.58 968.10,819.10 C969.70,820.62 972.25,821.77 974.10,823.10 C975.95,824.43 977.93,825.58 979.20,827.10 C980.47,828.62 981.37,830.02 981.70,832.20 C982.03,834.38 981.20,838.02 981.20,840.20 C981.20,842.38 981.87,843.28 981.70,845.30 C981.53,847.32 980.62,850.45 980.20,852.30 C979.78,854.15 977.70,855.05 979.20,856.40 C980.70,857.75 985.68,858.88 989.20,860.40 C992.72,861.92 997.10,863.82 1000.30,865.50 C1003.50,867.18 1006.80,869.25 1008.40,870.50 C1010.00,871.75 1010.23,872.00 1009.90,873.00 C1009.57,874.00 1009.00,875.23 1006.40,876.50 C1003.80,877.77 998.50,879.25 994.30,880.60 C990.10,881.95 985.40,883.27 981.20,884.60 C977.00,885.93 971.80,887.25 969.10,888.60 C966.40,889.95 965.00,891.18 965.00,892.70 C965.00,894.22 967.67,896.02 969.10,897.70 C970.53,899.38 972.77,901.28 973.60,902.80 C974.43,904.32 974.35,905.47 974.10,906.80 C973.85,908.13 973.10,909.28 972.10,910.80 C971.10,912.32 969.02,914.22 968.10,915.90 C967.18,917.58 966.93,919.17 966.60,920.90 C966.27,922.63 966.18,925.40 966.10,926.30 L955.90,926.30 C955.82,925.40 955.73,922.63 955.40,920.90 C955.07,919.17 954.82,917.58 953.90,915.90 C952.98,914.22 950.90,912.32 949.90,910.80 C948.90,909.28 948.15,908.13 947.90,906.80 C947.65,905.47 947.57,904.32 948.40,902.80 C949.23,901.28 951.47,899.38 952.90,897.70 C954.33,896.02 957.00,894.22 957.00,892.70 C957.00,891.18 955.60,889.95 952.90,888.60 C950.20,887.25 945.00,885.93 940.80,884.60 C936.60,883.27 931.90,881.95 927.70,880.60 C923.50,879.25 918.20,877.77 915.60,876.50 C913.00,875.23 912.43,874.00 912.10,873.00 C911.77,872.00 912.00,871.75 913.60,870.50 C915.20,869.25 918.50,867.18 921.70,865.50 C924.90,863.82 929.28,861.92 932.80,860.40 C936.32,858.88 941.30,857.75 942.80,856.40 C944.30,855.05 942.22,854.15 941.80,852.30 C941.38,850.45 940.47,847.32 940.30,845.30 C940.13,843.28 940.80,842.38 940.80,840.20 C940.80,838.02 939.97,834.38 940.30,832.20 C940.63,830.02 941.53,828.62 942.80,827.10 C944.07,825.58 946.05,824.43 947.90,823.10 C949.75,821.77 952.30,820.62 953.90,819.10 C955.50,817.58 956.83,815.52 957.50,814.00 C958.17,812.48 958.10,811.68 957.90,810.00 C957.70,808.32 956.45,806.05 956.30,803.90 C956.15,801.75 956.42,799.35 957.00,797.10 C957.58,794.85 959.15,792.63 959.80,790.40 C960.45,788.17 960.70,786.50 960.88,783.70 C961.06,780.90 960.88,776.97 960.88,773.60 C960.88,770.23 961.09,765.97 960.88,763.50 C960.67,761.03 960.23,760.48 959.60,758.80 C958.97,757.12 957.67,755.18 957.10,753.40 C956.53,751.62 956.35,748.98 956.20,748.10 Z" fill="#04a804" stroke="#0b620b" stroke-width="3.0" stroke-linejoin="round"/>
<path d="M942.0,844.8 H980.0" stroke="#066006" stroke-width="1" stroke-dasharray="3 2" opacity="0.75"/>
<path d="M917.2,869.3 H1004.8" stroke="#066006" stroke-width="2.1" stroke-dasharray="6 3"/>
<path d="M923.5,878.6 H998.5" stroke="#066006" stroke-width="1" stroke-dasharray="3 2" opacity="0.75"/>
<path d="M1114.50,805.40 C1114.37,806.00 1113.97,807.67 1113.70,809.00 C1113.43,810.33 1112.97,810.42 1112.90,813.40 C1112.83,816.38 1113.07,822.42 1113.30,826.90 C1113.53,831.38 1113.80,836.93 1114.30,840.30 C1114.80,843.67 1115.42,844.85 1116.30,847.10 C1117.18,849.35 1117.47,851.57 1119.60,853.80 C1121.73,856.03 1125.73,858.27 1129.10,860.50 C1132.47,862.73 1136.45,864.95 1139.80,867.20 C1143.15,869.45 1146.50,871.75 1149.20,874.00 C1151.90,876.25 1154.20,878.47 1156.00,880.70 C1157.80,882.93 1159.15,885.60 1160.00,887.40 C1160.85,889.20 1161.33,889.93 1161.10,891.50 C1160.87,893.07 1160.80,895.02 1158.60,896.80 C1156.40,898.58 1151.48,900.40 1147.90,902.20 C1144.32,904.00 1140.35,905.80 1137.10,907.60 C1133.85,909.40 1130.08,911.20 1128.40,913.00 C1126.72,914.80 1127.12,916.38 1127.00,918.40 C1126.88,920.42 1127.57,923.17 1127.70,925.10 C1127.83,927.03 1128.12,928.52 1127.80,930.00 C1127.48,931.48 1126.58,932.43 1125.80,934.00 C1125.02,935.57 1124.18,937.82 1123.10,939.40 C1122.02,940.98 1120.18,942.13 1119.30,943.50 C1118.42,944.87 1118.05,944.95 1117.80,947.60 C1117.55,950.25 1118.20,955.47 1117.80,959.40 C1117.40,963.33 1115.70,967.28 1115.40,971.20 C1115.10,975.12 1115.85,978.98 1116.00,982.90 C1116.15,986.82 1116.35,990.77 1116.30,994.70 C1116.25,998.63 1115.60,1002.58 1115.70,1006.50 C1115.80,1010.42 1116.60,1014.28 1116.90,1018.20 C1117.20,1022.12 1117.50,1026.07 1117.50,1030.00 C1117.50,1033.93 1117.25,1037.88 1116.90,1041.80 C1116.55,1045.72 1115.93,1049.58 1115.40,1053.50 C1114.87,1057.42 1114.13,1062.55 1113.70,1065.30 C1113.27,1068.05 1112.90,1067.55 1112.80,1070.00 C1112.70,1072.45 1112.97,1077.13 1113.10,1080.00 C1113.23,1082.87 1113.66,1083.90 1113.60,1087.20 C1113.54,1090.50 1112.79,1095.38 1112.72,1099.80 C1112.65,1104.22 1113.02,1109.92 1113.20,1113.70 C1113.38,1117.48 1113.70,1121.03 1113.80,1122.50 L1111.40,1122.50 C1111.50,1121.03 1111.82,1117.48 1112.00,1113.70 C1112.18,1109.92 1112.55,1104.22 1112.48,1099.80 C1112.41,1095.38 1111.66,1090.50 1111.60,1087.20 C1111.54,1083.90 1111.97,1082.87 1112.10,1080.00 C1112.23,1077.13 1112.50,1072.45 1112.40,1070.00 C1112.30,1067.55 1111.93,1068.05 1111.50,1065.30 C1111.07,1062.55 1110.33,1057.42 1109.80,1053.50 C1109.27,1049.58 1108.65,1045.72 1108.30,1041.80 C1107.95,1037.88 1107.70,1033.93 1107.70,1030.00 C1107.70,1026.07 1108.00,1022.12 1108.30,1018.20 C1108.60,1014.28 1109.40,1010.42 1109.50,1006.50 C1109.60,1002.58 1108.95,998.63 1108.90,994.70 C1108.85,990.77 1109.05,986.82 1109.20,982.90 C1109.35,978.98 1110.10,975.12 1109.80,971.20 C1109.50,967.28 1107.80,963.33 1107.40,959.40 C1107.00,955.47 1107.65,950.25 1107.40,947.60 C1107.15,944.95 1106.78,944.87 1105.90,943.50 C1105.02,942.13 1103.18,940.98 1102.10,939.40 C1101.02,937.82 1100.18,935.57 1099.40,934.00 C1098.62,932.43 1097.72,931.48 1097.40,930.00 C1097.08,928.52 1097.37,927.03 1097.50,925.10 C1097.63,923.17 1098.32,920.42 1098.20,918.40 C1098.08,916.38 1098.48,914.80 1096.80,913.00 C1095.12,911.20 1091.35,909.40 1088.10,907.60 C1084.85,905.80 1080.88,904.00 1077.30,902.20 C1073.72,900.40 1068.80,898.58 1066.60,896.80 C1064.40,895.02 1064.33,893.07 1064.10,891.50 C1063.87,889.93 1064.35,889.20 1065.20,887.40 C1066.05,885.60 1067.40,882.93 1069.20,880.70 C1071.00,878.47 1073.30,876.25 1076.00,874.00 C1078.70,871.75 1082.05,869.45 1085.40,867.20 C1088.75,864.95 1092.73,862.73 1096.10,860.50 C1099.47,858.27 1103.47,856.03 1105.60,853.80 C1107.73,851.57 1108.02,849.35 1108.90,847.10 C1109.78,844.85 1110.40,843.67 1110.90,840.30 C1111.40,836.93 1111.67,831.38 1111.90,826.90 C1112.13,822.42 1112.37,816.38 1112.30,813.40 C1112.23,810.42 1111.77,810.33 1111.50,809.00 C1111.23,807.67 1110.83,806.00 1110.70,805.40 Z" fill="#fcc862" stroke="#a3834a" stroke-width="2.6" stroke-linejoin="round"/>
<path d="M1072.4,879.4 H1152.8" stroke="#ad8733" stroke-width="1" stroke-dasharray="3 2" opacity="0.75"/>
<path d="M1068.0,895.8 H1157.2" stroke="#ad8733" stroke-width="2.1" stroke-dasharray="6 3"/>
<path d="M1100.4,932.2 H1124.8" stroke="#ad8733" stroke-width="1" stroke-dasharray="3 2" opacity="0.75"/>
</svg></body></html>
